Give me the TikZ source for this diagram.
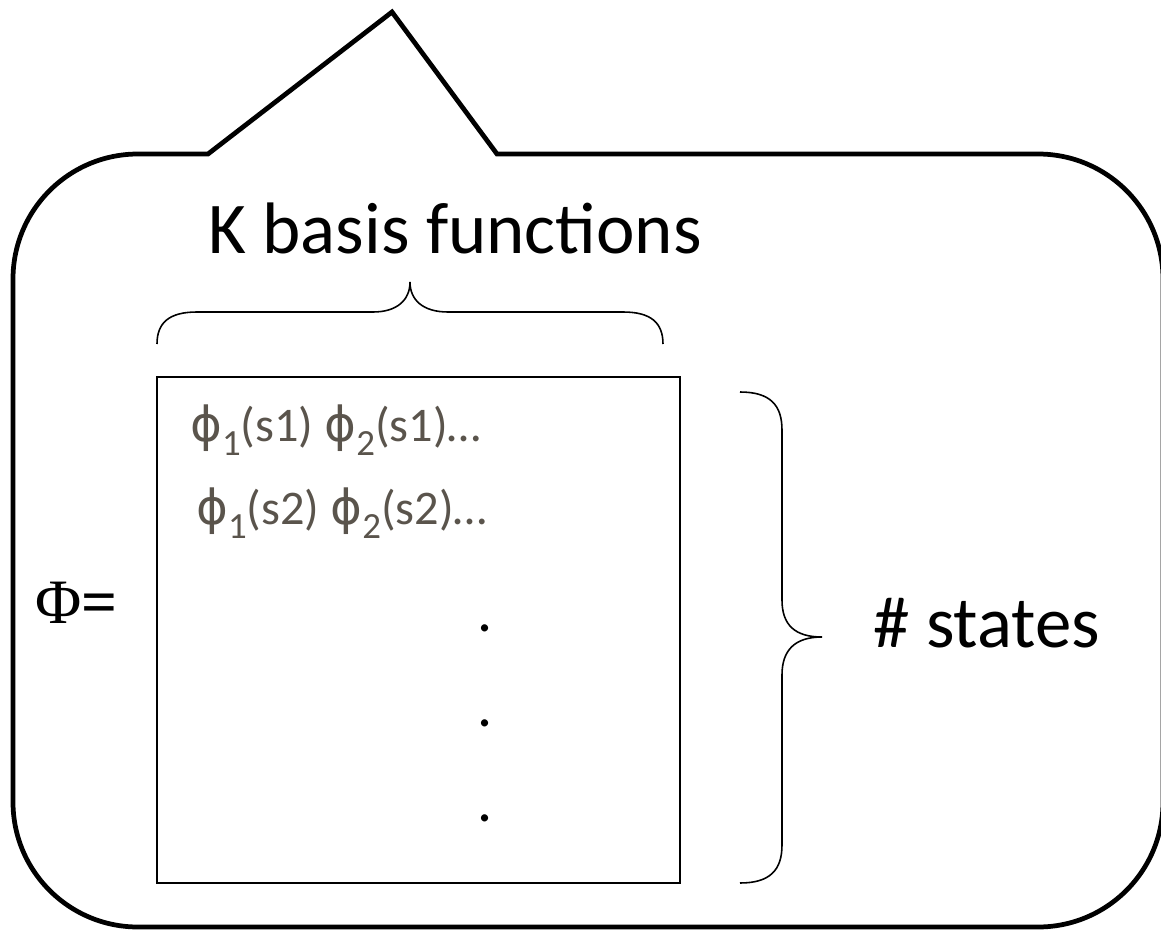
\documentclass[tikz,border=0pt]{standalone}
\usepackage{fontspec}
\setmainfont{Carlito}
\newfontfamily\symfont{DejaVu Sans}
\newfontfamily\serifsym{Liberation Serif}
\usetikzlibrary{positioning}
\definecolor{RowGray}{RGB}{90,84,76}
% phi with a lowered, smaller index
\newcommand{\phisub}[1]{{\symfont\char"03D5}\raisebox{-0.28cm}{\fontsize{21}{23}\selectfont #1}}
\tikzset{
  callout/.style={draw=black,line width=2.7pt},
  matrixbox/.style={draw=black,line width=0.8pt},
  bracepath/.style={draw=black,line width=0.9pt},
  heading/.style={inner sep=0pt,font=\fontsize{41.5}{48}\selectfont},
  phirow/.style={inner sep=0pt,text=RowGray,font=\fontsize{27.5}{32}\selectfont},
  rowdot/.style={inner sep=0pt,font=\fontsize{34}{40}\selectfont},
  phieq/.style={inner sep=0pt,font=\serifsym\fontsize{36}{40}\selectfont}
}

\begin{document}
\begin{tikzpicture}[x=0.02cm,y=-0.02cm]
\useasboundingbox (0,0) rectangle (1161,930);

% speech bubble
\draw[callout] (497,154) {[rounded corners=2.5cm] -- (1163,154) -- (1163,927) -- (13,927) -- (13,154)} -- (208,154) -- (392,12) -- cycle;

% the matrix
\coordinate (boxnw) at (157,377);
\coordinate (boxse) at (680,883);
\draw[matrixbox] (boxnw) rectangle (boxse);

% braces
\draw[bracepath] (157,344) .. controls (157,322) and (170,312) .. (197,312) -- (373,312)
  .. controls (397,312) and (410,300) .. (410,282) .. controls (410,300) and (423,312) .. (448,312)
  -- (623,312) .. controls (650,312) and (663,322) .. (663,344);
\draw[bracepath] (740,392) .. controls (770,392) and (782,405) .. (782,430) -- (782,600)
  .. controls (782,625) and (795,637) .. (822,637) .. controls (795,637) and (782,650) .. (782,675)
  -- (782,845) .. controls (782,870) and (770,883) .. (740,883);

\node[heading,anchor=base] (kbasis) at (455,253) {K basis functions};
\node[heading,anchor=base west] (nstates) at (873,647) {\# states};
\node[phieq,anchor=base west] (phimat) at (35,623) {Φ{\bfseries=}};

\node[phirow,anchor=base west] (row1) at (190,441) {\phisub{1}(s1) \phisub{2}(s1)…};
\node[phirow,anchor=base west] (row2) at (196,524) {\phisub{1}(s2) \phisub{2}(s2)…};

\node[rowdot,anchor=base] (dot1) at (485,631) {.};
\node[rowdot,anchor=base] (dot2) at (485,726) {.};
\node[rowdot,anchor=base] (dot3) at (485,821) {.};
\end{tikzpicture}
\end{document}
